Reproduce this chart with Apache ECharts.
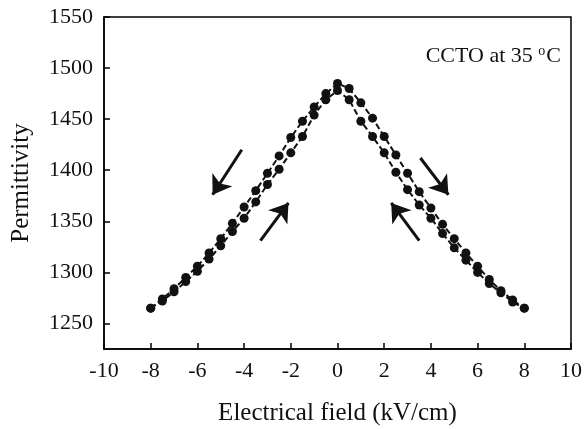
<!DOCTYPE html>
<html>
<head>
<meta charset="utf-8">
<script src="https://cdn.jsdelivr.net/npm/echarts@6/dist/echarts.min.js"></script>
<style>
  html, body { margin: 0; padding: 0; background: #fff; }
  #chart { width: 585px; height: 429px; }
</style>
</head>
<body>
<div id="chart"></div>
<script>
// electric field values (kV/cm), same for both sweeps
const field = [-8, -7.5, -7, -6.5, -6, -5.5, -5, -4.5, -4, -3.5, -3, -2.5, -2, -1.5, -1, -0.5,
               0, 0.5, 1, 1.5, 2, 2.5, 3, 3.5, 4, 4.5, 5, 5.5, 6, 6.5, 7, 7.5, 8];
// sweep away from 0 (outer branch)
const permUp = [1265, 1274, 1284, 1295, 1306, 1319, 1333, 1348, 1364, 1380, 1397, 1414, 1432, 1448, 1462, 1475,
                1485, 1480, 1466, 1451, 1433, 1415, 1397, 1379, 1363, 1347, 1333, 1319, 1306, 1293, 1282, 1273, 1265];
// sweep back toward 0 (inner branch)
const permDown = [1265, 1272, 1281, 1291, 1301, 1313, 1326, 1340, 1353, 1369, 1386, 1401, 1417, 1433, 1454, 1469,
                  1478, 1469, 1448, 1433, 1417, 1398, 1381, 1366, 1353, 1338, 1324, 1312, 1300, 1289, 1280, 1271, 1265];
const yTicks = [1250, 1300, 1350, 1400, 1450, 1500, 1550];
// arrows [tail, head] in data units
const arrows = [
  [[-4.1, 1420], [-5.35, 1376]],
  [[-3.3, 1331], [-2.1, 1368]],
  [[3.55, 1412], [4.75, 1376]],
  [[3.5, 1331], [2.3, 1368]]
];

const font = '"Liberation Serif", "Times New Roman", serif';
const chart = echarts.init(document.getElementById('chart'));

function pairs(ys) { return field.map((x, i) => [x, ys[i]]); }

const option = {
  animation: false,
  grid: { left: 104, right: 14, top: 17, bottom: 80, show: true, borderColor: '#000', borderWidth: 1.5,
          outerBoundsMode: 'none', containLabel: false },
  xAxis: {
    type: 'value', min: -10, max: 10, interval: 2,
    name: 'Electrical field (kV/cm)', nameLocation: 'middle', nameGap: 52,
    nameTextStyle: { fontFamily: font, fontSize: 25, color: '#111' },
    axisLine: { onZero: false, lineStyle: { color: '#000', width: 1.5 } },
    axisTick: { inside: true, length: 6, lineStyle: { color: '#000', width: 1.5 } },
    axisLabel: { fontFamily: font, fontSize: 22, color: '#111', margin: 11 },
    splitLine: { show: false }
  },
  yAxis: {
    type: 'value', min: 1225, max: 1550,
    name: 'Permittivity', nameLocation: 'middle', nameGap: 70,
    nameTextStyle: { fontFamily: font, fontSize: 25, color: '#111' },
    axisLine: { onZero: false, lineStyle: { color: '#000', width: 1.5 } },
    axisTick: { inside: true, length: 6, customValues: yTicks, lineStyle: { color: '#000', width: 1.5 } },
    axisLabel: { fontFamily: font, fontSize: 22, color: '#111', margin: 11, customValues: yTicks,
                 formatter: v => String(v) },
    splitLine: { show: false }
  },
  graphic: [{
    type: 'text', right: 24, top: 44,
    style: {
      text: '{a|CCTO at 35 }{s|o}{a|C}',
      rich: {
        a: { fontFamily: font, fontSize: 22, fill: '#111' },
        s: { fontFamily: font, fontSize: 14, fill: '#111', verticalAlign: 'top', padding: [0, 1, 10, 0] }
      }
    }
  }],
  series: [
    {
      type: 'line', data: pairs(permUp), symbol: 'circle', symbolSize: 9,
      itemStyle: { color: '#111' }, lineStyle: { color: '#111', width: 2, type: [6, 3] }
    },
    {
      type: 'line', data: pairs(permDown), symbol: 'circle', symbolSize: 9,
      itemStyle: { color: '#111' }, lineStyle: { color: '#111', width: 2, type: [6, 3] }
    },
    {
      type: 'lines', coordinateSystem: 'cartesian2d', silent: true,
      symbol: ['none', 'arrow'], symbolSize: [0, 18],
      lineStyle: { color: '#111', width: 3, opacity: 1 },
      data: arrows.map(a => ({ coords: a }))
    }
  ]
};
chart.setOption(option);
</script>
</body>
</html>
